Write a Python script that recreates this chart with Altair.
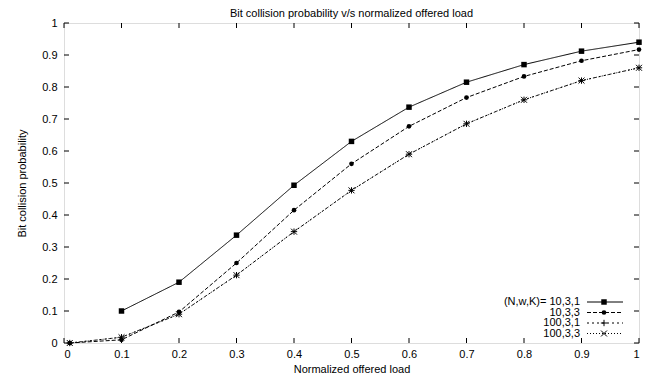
import altair as alt
import pandas as pd

x_vals = [0.01, 0.1, 0.2, 0.3, 0.4, 0.5, 0.6, 0.7, 0.8, 0.9, 1.0]
s1_x = [0.1, 0.2, 0.3, 0.4, 0.5, 0.6, 0.7, 0.8, 0.9, 1.0]
s1_y = [0.100, 0.190, 0.337, 0.493, 0.630, 0.737, 0.815, 0.870, 0.912, 0.940]
s2_y = [0.0, 0.010, 0.097, 0.250, 0.415, 0.560, 0.677, 0.767, 0.833, 0.882, 0.917]
s3_y = [0.0, 0.018, 0.090, 0.212, 0.348, 0.477, 0.590, 0.685, 0.760, 0.820, 0.860]
s4_y = [0.0, 0.018, 0.090, 0.212, 0.348, 0.477, 0.590, 0.685, 0.760, 0.820, 0.860]
series_names = ["10,3,1", "10,3,3", "100,3,1", "100,3,3"]
legend_labels = ["(N,w,K)= 10,3,1", "10,3,3", "100,3,1", "100,3,3"]
x_ticks = [0, 0.1, 0.2, 0.3, 0.4, 0.5, 0.6, 0.7, 0.8, 0.9, 1]
y_ticks = [0, 0.1, 0.2, 0.3, 0.4, 0.5, 0.6, 0.7, 0.8, 0.9, 1]

W, H = 575, 320
FONT = "Liberation Sans"

dashes = [[1, 0], [4, 2], [2, 3], [1, 2]]
plus_path = "M-1,0L1,0M0,-1L0,1"
x_path = "M-1,-1L1,1M-1,1L1,-1"
shapes = ["square", "circle", plus_path, x_path]
filled = [True, True, False, False]
sizes = [30, 22, 40, 35]

xs = [s1_x, x_vals, x_vals, x_vals]
ys = [s1_y, s2_y, s3_y, s4_y]

xscale = alt.Scale(domain=[0, 1], nice=False, zero=False)
yscale = alt.Scale(domain=[0, 1], nice=False, zero=False)

X_AXIS = alt.Axis(values=x_ticks, format=".2~f", title="Normalized offered load",
                  grid=False, domain=False, ticks=False, labelPadding=5,
                  labelOverlap=False, tickCount=11,
                  labelFont=FONT, labelFontSize=11, labelColor="black",
                  titleFont=FONT, titleFontSize=11, titleFontWeight="normal",
                  titleColor="black", titlePadding=4)
Y_AXIS = alt.Axis(values=y_ticks, format=".2~f", title="Bit collision probability",
                  grid=False, domain=False, ticks=False, labelPadding=7,
                  labelOverlap=False, tickCount=11,
                  labelFont=FONT, labelFontSize=11, labelColor="black",
                  titleFont=FONT, titleFontSize=11, titleFontWeight="normal",
                  titleColor="black", titlePadding=14)


def XE(field):
    return alt.X(field, type="quantitative", scale=xscale, axis=X_AXIS)


def YE(field):
    return alt.Y(field, type="quantitative", scale=yscale, axis=Y_AXIS)


layers = []
for i in range(4):
    df = pd.DataFrame({"x": xs[i], "y": ys[i]})
    base = alt.Chart(df)
    line = base.mark_line(color="black", strokeWidth=1, strokeDash=dashes[i]).encode(
        x=XE("x"), y=YE("y"))
    pts = base.mark_point(shape=shapes[i], filled=filled[i], color="black", size=sizes[i],
                          strokeWidth=1, opacity=1).encode(x=XE("x"), y=YE("y"))
    layers += [line, pts]

xt = pd.DataFrame({"x": x_ticks})
yt = pd.DataFrame({"y": y_ticks})
tick_len = 5
ticks = [
    alt.Chart(xt).mark_rule(color="black", strokeWidth=1).encode(
        x=XE("x"), y=alt.value(H), y2=alt.value(H - tick_len)),
    alt.Chart(xt).mark_rule(color="black", strokeWidth=1).encode(
        x=XE("x"), y=alt.value(0), y2=alt.value(tick_len)),
    alt.Chart(yt).mark_rule(color="black", strokeWidth=1).encode(
        y=YE("y"), x=alt.value(0), x2=alt.value(tick_len)),
    alt.Chart(yt).mark_rule(color="black", strokeWidth=1).encode(
        y=YE("y"), x=alt.value(W), x2=alt.value(W - tick_len)),
]
layers += ticks

# manual legend (gnuplot style: label left, sample right)
leg_y0 = 279
leg_dy = 10.5
text_x = 516
line_x1, line_x2 = 523, 559
mark_x = 540
for i in range(4):
    yy = leg_y0 + i * leg_dy
    ld = pd.DataFrame({"label": [legend_labels[i]]})
    layers.append(alt.Chart(ld).mark_text(align="right", baseline="middle", font=FONT,
                                           fontSize=11, color="black").encode(
        text="label:N", x=alt.value(text_x), y=alt.value(yy)))
    layers.append(alt.Chart(ld).mark_rule(color="black", strokeWidth=1, strokeDash=dashes[i]).encode(
        x=alt.value(line_x1), x2=alt.value(line_x2), y=alt.value(yy)))
    layers.append(alt.Chart(ld).mark_point(shape=shapes[i], filled=filled[i], color="black",
                                           size=sizes[i], strokeWidth=1, opacity=1).encode(
        x=alt.value(mark_x), y=alt.value(yy)))

chart = alt.layer(*layers).properties(
    width=W, height=H,
    title=alt.TitleParams("Bit collision probability v/s normalized offered load",
                          font=FONT, fontSize=11, fontWeight="normal", color="black",
                          anchor="middle", offset=6, dy=8),
    autosize=alt.AutoSizeParams(type="none"),
    padding={"left": 64, "top": 23, "right": 17, "bottom": 39},
).configure_view(stroke="black", strokeWidth=1.5).configure(background="white")

chart.save("out.html", embed_options={"renderer": "svg", "actions": False})
